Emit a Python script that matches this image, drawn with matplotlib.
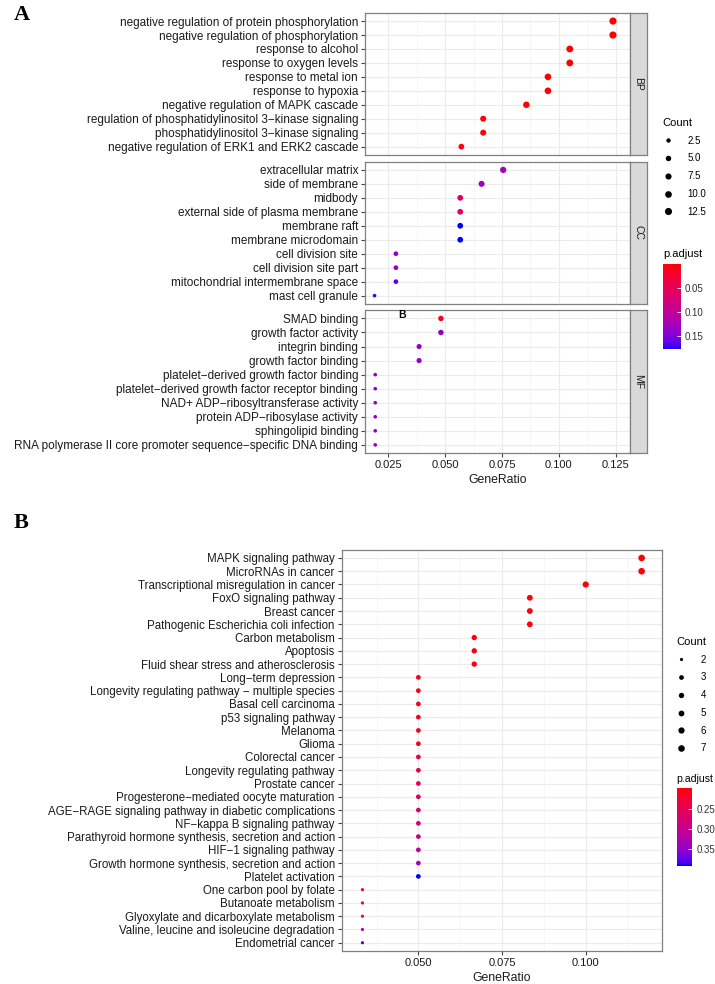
import numpy as np
import matplotlib
matplotlib.use('Agg')
import matplotlib.pyplot as plt
from matplotlib.colors import ListedColormap, Normalize
from matplotlib.cm import ScalarMappable
from matplotlib.lines import Line2D

plt.rcParams['font.family'] = ['Liberation Sans', 'DejaVu Sans']

# ---------------- panel A : GO enrichment ----------------
bp_terms = ['negative regulation of protein phosphorylation',
            'negative regulation of phosphorylation',
            'response to alcohol',
            'response to oxygen levels',
            'response to metal ion',
            'response to hypoxia',
            'negative regulation of MAPK cascade',
            'regulation of phosphatidylinositol 3\u2212kinase signaling',
            'phosphatidylinositol 3\u2212kinase signaling',
            'negative regulation of ERK1 and ERK2 cascade']
bp_ratio = [0.1238, 0.1238, 0.1048, 0.1048, 0.0952, 0.0952, 0.0857, 0.0667, 0.0667, 0.0571]
bp_count = [13, 13, 11, 11, 10, 10, 9, 7, 7, 6]
bp_padj = [0.0003, 0.0004, 0.0010, 0.0012, 0.0020, 0.0020, 0.0030, 0.0040, 0.0040, 0.0050]

cc_terms = ['extracellular matrix',
            'side of membrane',
            'midbody',
            'external side of plasma membrane',
            'membrane raft',
            'membrane microdomain',
            'cell division site',
            'cell division site part',
            'mitochondrial intermembrane space',
            'mast cell granule']
cc_ratio = [0.0755, 0.0660, 0.0566, 0.0566, 0.0566, 0.0566, 0.0283, 0.0283, 0.0283, 0.0189]
cc_count = [8, 7, 6, 6, 6, 6, 3, 3, 3, 2]
cc_padj = [0.128, 0.136, 0.062, 0.062, 0.179, 0.179, 0.140, 0.140, 0.165, 0.175]

mf_terms = ['SMAD binding',
            'growth factor activity',
            'integrin binding',
            'growth factor binding',
            'platelet\u2212derived growth factor binding',
            'platelet\u2212derived growth factor receptor binding',
            'NAD+ ADP\u2212ribosyltransferase activity',
            'protein ADP\u2212ribosylase activity',
            'sphingolipid binding',
            'RNA polymerase II core promoter sequence\u2212specific DNA binding']
mf_ratio = [0.0481, 0.0481, 0.0385, 0.0385, 0.0192, 0.0192, 0.0192, 0.0192, 0.0192, 0.0192]
mf_count = [5, 5, 4, 4, 2, 2, 2, 2, 2, 2]
mf_padj = [0.012, 0.138, 0.138, 0.138, 0.142, 0.142, 0.142, 0.142, 0.142, 0.142]

a_count_breaks = [2.5, 5.0, 7.5, 10.0, 12.5]
a_padj_ticks = [0.05, 0.10, 0.15]

# ---------------- panel B : KEGG enrichment ----------------
kegg_terms = ['MAPK signaling pathway',
              'MicroRNAs in cancer',
              'Transcriptional misregulation in cancer',
              'FoxO signaling pathway',
              'Breast cancer',
              'Pathogenic Escherichia coli infection',
              'Carbon metabolism',
              'Apoptosis',
              'Fluid shear stress and atherosclerosis',
              'Long\u2212term depression',
              'Longevity regulating pathway \u2212 multiple species',
              'Basal cell carcinoma',
              'p53 signaling pathway',
              'Melanoma',
              'Glioma',
              'Colorectal cancer',
              'Longevity regulating pathway',
              'Prostate cancer',
              'Progesterone\u2212mediated oocyte maturation',
              'AGE\u2212RAGE signaling pathway in diabetic complications',
              'NF\u2212kappa B signaling pathway',
              'Parathyroid hormone synthesis, secretion and action',
              'HIF\u22121 signaling pathway',
              'Growth hormone synthesis, secretion and action',
              'Platelet activation',
              'One carbon pool by folate',
              'Butanoate metabolism',
              'Glyoxylate and dicarboxylate metabolism',
              'Valine, leucine and isoleucine degradation',
              'Endometrial cancer']
kegg_ratio = [0.1167, 0.1167, 0.1000, 0.0833, 0.0833, 0.0833, 0.0667, 0.0667, 0.0667,
              0.05, 0.05, 0.05, 0.05, 0.05, 0.05, 0.05, 0.05, 0.05, 0.05, 0.05, 0.05,
              0.05, 0.05, 0.05, 0.05, 0.0333, 0.0333, 0.0333, 0.0333, 0.0333]
kegg_count = [7, 7, 6, 5, 5, 5, 4, 4, 4,
              3, 3, 3, 3, 3, 3, 3, 3, 3, 3, 3, 3, 3, 3, 3, 3,
              2, 2, 2, 2, 2]
kegg_padj = [0.200, 0.200, 0.202, 0.203, 0.203, 0.203, 0.205, 0.205, 0.205,
             0.208, 0.208, 0.210, 0.210, 0.215, 0.220, 0.235, 0.245, 0.255, 0.265,
             0.275, 0.285, 0.295, 0.305, 0.325, 0.390,
             0.210, 0.215, 0.225, 0.310, 0.380]

b_count_breaks = [2, 3, 4, 5, 6, 7]
b_padj_ticks = [0.25, 0.30, 0.35]


# red -> blue gradient interpolated in Lab space (like ggplot's scale_colour_gradient)
def srgb_to_lab(rgb):
    c = np.asarray(rgb, float)
    lin = np.where(c <= 0.04045, c / 12.92, ((c + 0.055) / 1.055) ** 2.4)
    m = np.array([[0.4124, 0.3576, 0.1805], [0.2126, 0.7152, 0.0722], [0.0193, 0.1192, 0.9505]])
    xyz = m @ lin / np.array([0.95047, 1.0, 1.08883])
    f = np.where(xyz > 0.008856, np.cbrt(xyz), 7.787 * xyz + 16 / 116)
    return np.array([116 * f[1] - 16, 500 * (f[0] - f[1]), 200 * (f[1] - f[2])])


def lab_to_srgb(lab):
    L, a, b = lab
    fy = (L + 16) / 116
    f = np.array([fy + a / 500, fy, fy - b / 200])
    xyz = np.where(f ** 3 > 0.008856, f ** 3, (f - 16 / 116) / 7.787) * np.array([0.95047, 1.0, 1.08883])
    m = np.array([[3.2406, -1.5372, -0.4986], [-0.9689, 1.8758, 0.0415], [0.0557, -0.2040, 1.0570]])
    lin = np.clip(m @ xyz, 0, 1)
    c = np.where(lin <= 0.0031308, 12.92 * lin, 1.055 * lin ** (1 / 2.4) - 0.055)
    return np.clip(c, 0, 1)


lo, hi = srgb_to_lab([1, 0, 0]), srgb_to_lab([0, 0, 1])
cmap = ListedColormap([lab_to_srgb(lo + (hi - lo) * t) for t in np.linspace(0, 1, 256)])

W, H = 715, 984
fig = plt.figure(figsize=(W / 100, H / 100), dpi=100)


def px_box(left, top, right, bottom):
    return [left / W, 1 - bottom / H, (right - left) / W, (bottom - top) / H]


def dot_size(count, cmin, cmax, dmin, dmax):
    t = (np.asarray(count, float) - cmin) / (cmax - cmin)
    d = dmin + (dmax - dmin) * np.sqrt(np.clip(t, 0, 1))
    return d * 0.72  # px -> pt


def style_panel(ax, xlim, major, minor, n, ysize):
    ax.set_xlim(*xlim)
    ax.set_ylim(n - 0.4, -0.6)
    ax.set_xticks(major)
    ax.set_xticks(minor, minor=True)
    ax.grid(True, which='major', color='#EBEBEB', lw=0.8)
    ax.grid(True, which='minor', axis='x', color='#F3F3F3', lw=0.5)
    ax.set_axisbelow(True)
    for s in ax.spines.values():
        s.set_color('#808080')
        s.set_linewidth(0.9)
    ax.tick_params(axis='y', length=3, color='#444444', labelsize=ysize, labelcolor='#1a1a1a', pad=2)
    ax.tick_params(axis='x', which='both', length=0)
    ax.tick_params(axis='x', which='major', length=3, color='#444444', labelsize=8, labelcolor='#1a1a1a', pad=2)


def size_legend(handles, labels, left, top):
    fig.legend(handles, labels, title='Count', loc='upper left',
               bbox_to_anchor=(left / W, 1 - top / H), frameon=False,
               fontsize=7, title_fontsize=8, alignment='left', handlelength=1.0,
               handletextpad=1.5, labelspacing=0.8, borderpad=0.2)


# ---- panel A ----
a_norm = Normalize(min(bp_padj + cc_padj + mf_padj), max(bp_padj + cc_padj + mf_padj))
a_cmin, a_cmax = min(bp_count + cc_count + mf_count), max(bp_count + cc_count + mf_count)
a_major = [0.025, 0.050, 0.075, 0.100, 0.125]
a_minor = [0.0375, 0.0625, 0.0875, 0.1125]
a_xlim = (0.0147, 0.1313)

facets = [('BP', bp_terms, bp_ratio, bp_count, bp_padj, 12.7, 155),
          ('CC', cc_terms, cc_ratio, cc_count, cc_padj, 161.5, 304),
          ('MF', mf_terms, mf_ratio, mf_count, mf_padj, 310, 453.3)]

for name, terms, ratio, count, padj, top, bottom in facets:
    ax = fig.add_axes(px_box(365, top, 630, bottom))
    ax.scatter(ratio, terms, s=dot_size(count, a_cmin, a_cmax, 3.6, 7.2) ** 2,
               c=padj, cmap=cmap, norm=a_norm, edgecolors='none', zorder=3)
    style_panel(ax, a_xlim, a_major, a_minor, len(terms), 8.5)
    if name == 'MF':
        ax.set_xticklabels(['0.025', '0.050', '0.075', '0.100', '0.125'])
        ax.set_xlabel('GeneRatio', fontsize=8.8, color='#1a1a1a', labelpad=3)
    else:
        ax.tick_params(axis='x', which='major', length=0, labelbottom=False)

    sx = fig.add_axes(px_box(630, top, 647, bottom))
    sx.set_facecolor('#D9D9D9')
    sx.set_xticks([])
    sx.set_yticks([])
    for s in sx.spines.values():
        s.set_color('#808080')
        s.set_linewidth(0.9)
    sx.text(0.5, 0.5, name, rotation=-90, ha='center', va='center', fontsize=7.5,
            color='#1a1a1a', transform=sx.transAxes)

# stray label inside MF panel
fig.text(401.7 / W, 1 - 315 / H, 'B', fontsize=7.5, fontweight='bold', ha='center', va='center')

a_handles = [Line2D([], [], ls='', marker='o', color='black', markeredgewidth=0,
                    markersize=dot_size(v, a_cmin, a_cmax, 3.6, 7.2)) for v in a_count_breaks]
size_legend(a_handles, [f'{v:.1f}' for v in a_count_breaks], 656, 111)

fig.text(663 / W, 1 - 254.3 / H, 'p.adjust', fontsize=8, ha='left', va='center')
cax = fig.add_axes(px_box(663.3, 264.3, 680.7, 349.3))
cb = fig.colorbar(ScalarMappable(a_norm, cmap), cax=cax)
cb.outline.set_visible(False)
cb.set_ticks(a_padj_ticks)
cb.set_ticklabels([f'{v:.2f}' for v in a_padj_ticks])
cax.invert_yaxis()
cax.tick_params(direction='in', color='white', length=3, width=0.6, labelsize=7, labelcolor='#333333', pad=3)
cax.minorticks_off()

# ---- panel B ----
b_norm = Normalize(min(kegg_padj), max(kegg_padj))
b_cmin, b_cmax = min(kegg_count), max(kegg_count)

bx = fig.add_axes(px_box(341.7, 550, 661.7, 950.7))
bx.scatter(kegg_ratio, kegg_terms, s=dot_size(kegg_count, b_cmin, b_cmax, 3.2, 6.6) ** 2,
           c=kegg_padj, cmap=cmap, norm=b_norm, edgecolors='none', zorder=3)
style_panel(bx, (0.0271, 0.1227), [0.050, 0.075, 0.100], [0.0375, 0.0625, 0.0875, 0.1125],
            len(kegg_terms), 8.3)
bx.set_xticklabels(['0.050', '0.075', '0.100'])
bx.set_xlabel('GeneRatio', fontsize=8.8, color='#1a1a1a', labelpad=3)

b_handles = [Line2D([], [], ls='', marker='o', color='black', markeredgewidth=0,
                    markersize=dot_size(v, b_cmin, b_cmax, 3.2, 6.6)) for v in b_count_breaks]
size_legend(b_handles, [str(v) for v in b_count_breaks], 669.5, 630)

fig.text(676.7 / W, 1 - 779 / H, 'p.adjust', fontsize=7.6, ha='left', va='center')
cbx = fig.add_axes(px_box(676.7, 788.3, 692.3, 865.7))
cb2 = fig.colorbar(ScalarMappable(b_norm, cmap), cax=cbx)
cb2.outline.set_visible(False)
cb2.set_ticks(b_padj_ticks)
cb2.set_ticklabels([f'{v:.2f}' for v in b_padj_ticks])
cbx.invert_yaxis()
cbx.tick_params(direction='in', color='white', length=3, width=0.6, labelsize=7, labelcolor='#333333', pad=3)
cbx.minorticks_off()

# panel letters
fig.text(14 / W, 1 - 20.5 / H, 'A', fontsize=16, fontweight='bold', family='Liberation Serif', va='baseline')
fig.text(14 / W, 1 - 528.3 / H, 'B', fontsize=16, fontweight='bold', family='Liberation Serif', va='baseline')

plt.savefig('out.png', dpi=100)
